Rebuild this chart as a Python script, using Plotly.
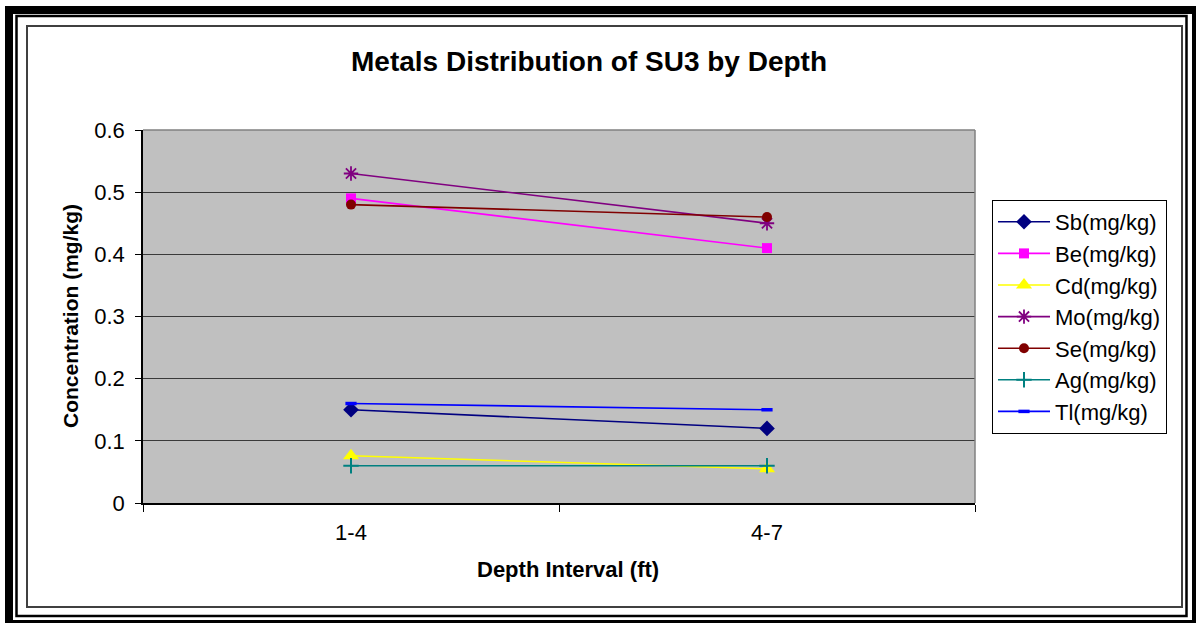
import plotly.graph_objects as go

# Depth intervals (ft) and metal concentrations (mg/kg)
depths = ["1-4", "4-7"]
sb = [0.15, 0.12]
be = [0.49, 0.41]
cd = [0.076, 0.055]
mo = [0.53, 0.45]
se = [0.48, 0.46]
ag = [0.06, 0.06]
tl = [0.16, 0.15]

series_names = ["Sb(mg/kg)", "Be(mg/kg)", "Cd(mg/kg)", "Mo(mg/kg)",
                "Se(mg/kg)", "Ag(mg/kg)", "Tl(mg/kg)"]
series_values = [sb, be, cd, mo, se, ag, tl]
series_colors = ["#000080", "#FF00FF", "#FFFF00", "#800080",
                 "#800000", "#008080", "#0000FF"]
series_markers = [
    dict(symbol="diamond", size=12),
    dict(symbol="square", size=10),
    dict(symbol="triangle-up", size=14),
    dict(symbol="asterisk-open", size=12, line=dict(width=1.8)),
    dict(symbol="circle", size=10),
    dict(symbol="cross-thin-open", size=11, line=dict(width=2)),
    dict(symbol="line-ew-open", size=8, line=dict(width=3.5)),
]

W, H = 1196, 623
L, R, T, B = 143, 975, 130, 503  # plot area in pixels


def px(x):
    return (x - L) / (R - L)


def py(y):
    return (B - y) / (B - T)


fig = go.Figure()
for i, (name, vals, col, mk) in enumerate(zip(series_names, series_values,
                                               series_colors, series_markers)):
    marker = dict(color=col, **mk)
    if "line" in marker:
        marker["line"] = dict(color=col, **mk["line"])
    fig.add_trace(go.Scatter(
        x=depths, y=vals, name=name, mode="lines+markers",
        line=dict(color=col, width=1.6), marker=marker,
        legendgroup=f"g{i}",
    ))

font_family = "Arial, Liberation Sans, sans-serif"

shapes = [
    # outer black frame
    dict(type="rect", xref="paper", yref="paper",
         x0=px(9), x1=px(1196), y0=py(10), y1=py(624),
         line=dict(color="black", width=8), layer="below"),
    dict(type="rect", xref="paper", yref="paper",
         x0=px(16.5), x1=px(1186.5), y0=py(16), y1=py(616),
         line=dict(color="black", width=2.5), layer="below"),
    # chart area border
    dict(type="rect", xref="paper", yref="paper",
         x0=px(27), x1=px(1182), y0=py(26), y1=py(607),
         line=dict(color="#404040", width=2), layer="below"),
    # plot area top and right edges
    dict(type="line", xref="paper", yref="paper", x0=0, x1=1, y0=1, y1=1,
         line=dict(color="#808080", width=1.5), layer="above"),
    dict(type="line", xref="paper", yref="paper", x0=1, x1=1, y0=0, y1=1,
         line=dict(color="#808080", width=1.5), layer="above"),
]

fig.update_layout(
    width=W, height=H,
    margin=dict(l=L, r=W - R, t=T, b=H - B, pad=0),
    paper_bgcolor="white",
    plot_bgcolor="#C0C0C0",
    font=dict(family=font_family, color="black", size=22),
    title=dict(text="<b>Metals Distribution of SU3 by Depth</b>",
               x=589 / W, y=1 - 61 / H, xref="container", yref="container",
               xanchor="center", yanchor="middle",
               font=dict(size=28, family=font_family, color="black")),
    showlegend=True,
    legend=dict(x=px(992), y=py(200), xanchor="left", yanchor="top",
                bgcolor="white", bordercolor="black", borderwidth=1,
                font=dict(size=22, family=font_family, color="black"),
                tracegroupgap=0, itemwidth=52, itemsizing="trace"),
    shapes=shapes,
    annotations=[
        dict(text="<b>Depth Interval (ft)</b>", xref="paper", yref="paper",
             x=px(568), y=py(569), xanchor="center", yanchor="middle",
             showarrow=False, font=dict(size=22, family=font_family)),
        dict(text="<b>Concentration (mg/kg)</b>", xref="paper", yref="paper",
             x=px(70), y=py(316), xanchor="center", yanchor="middle",
             textangle=-90, showarrow=False,
             font=dict(size=21, family=font_family)),
    ],
)

fig.update_xaxes(
    type="category", range=[-0.5, 1.5],
    showline=True, linecolor="black", linewidth=1.5,
    ticks="outside", tickson="boundaries", ticklen=7, tickcolor="black",
    tickwidth=1, ticklabelstandoff=9, showgrid=False, zeroline=False,
    tickfont=dict(size=22, family=font_family, color="black"),
)
fig.update_yaxes(
    range=[0, 0.6], dtick=0.1, tick0=0,
    showline=True, linecolor="black", linewidth=1.5,
    ticks="outside", ticklen=6, tickcolor="black", tickwidth=1,
    ticklabelstandoff=6,
    showgrid=True, gridcolor="#3a3a3a", gridwidth=1, zeroline=False,
    tickfont=dict(size=22, family=font_family, color="black"),
)

fig.write_html("out.html")
